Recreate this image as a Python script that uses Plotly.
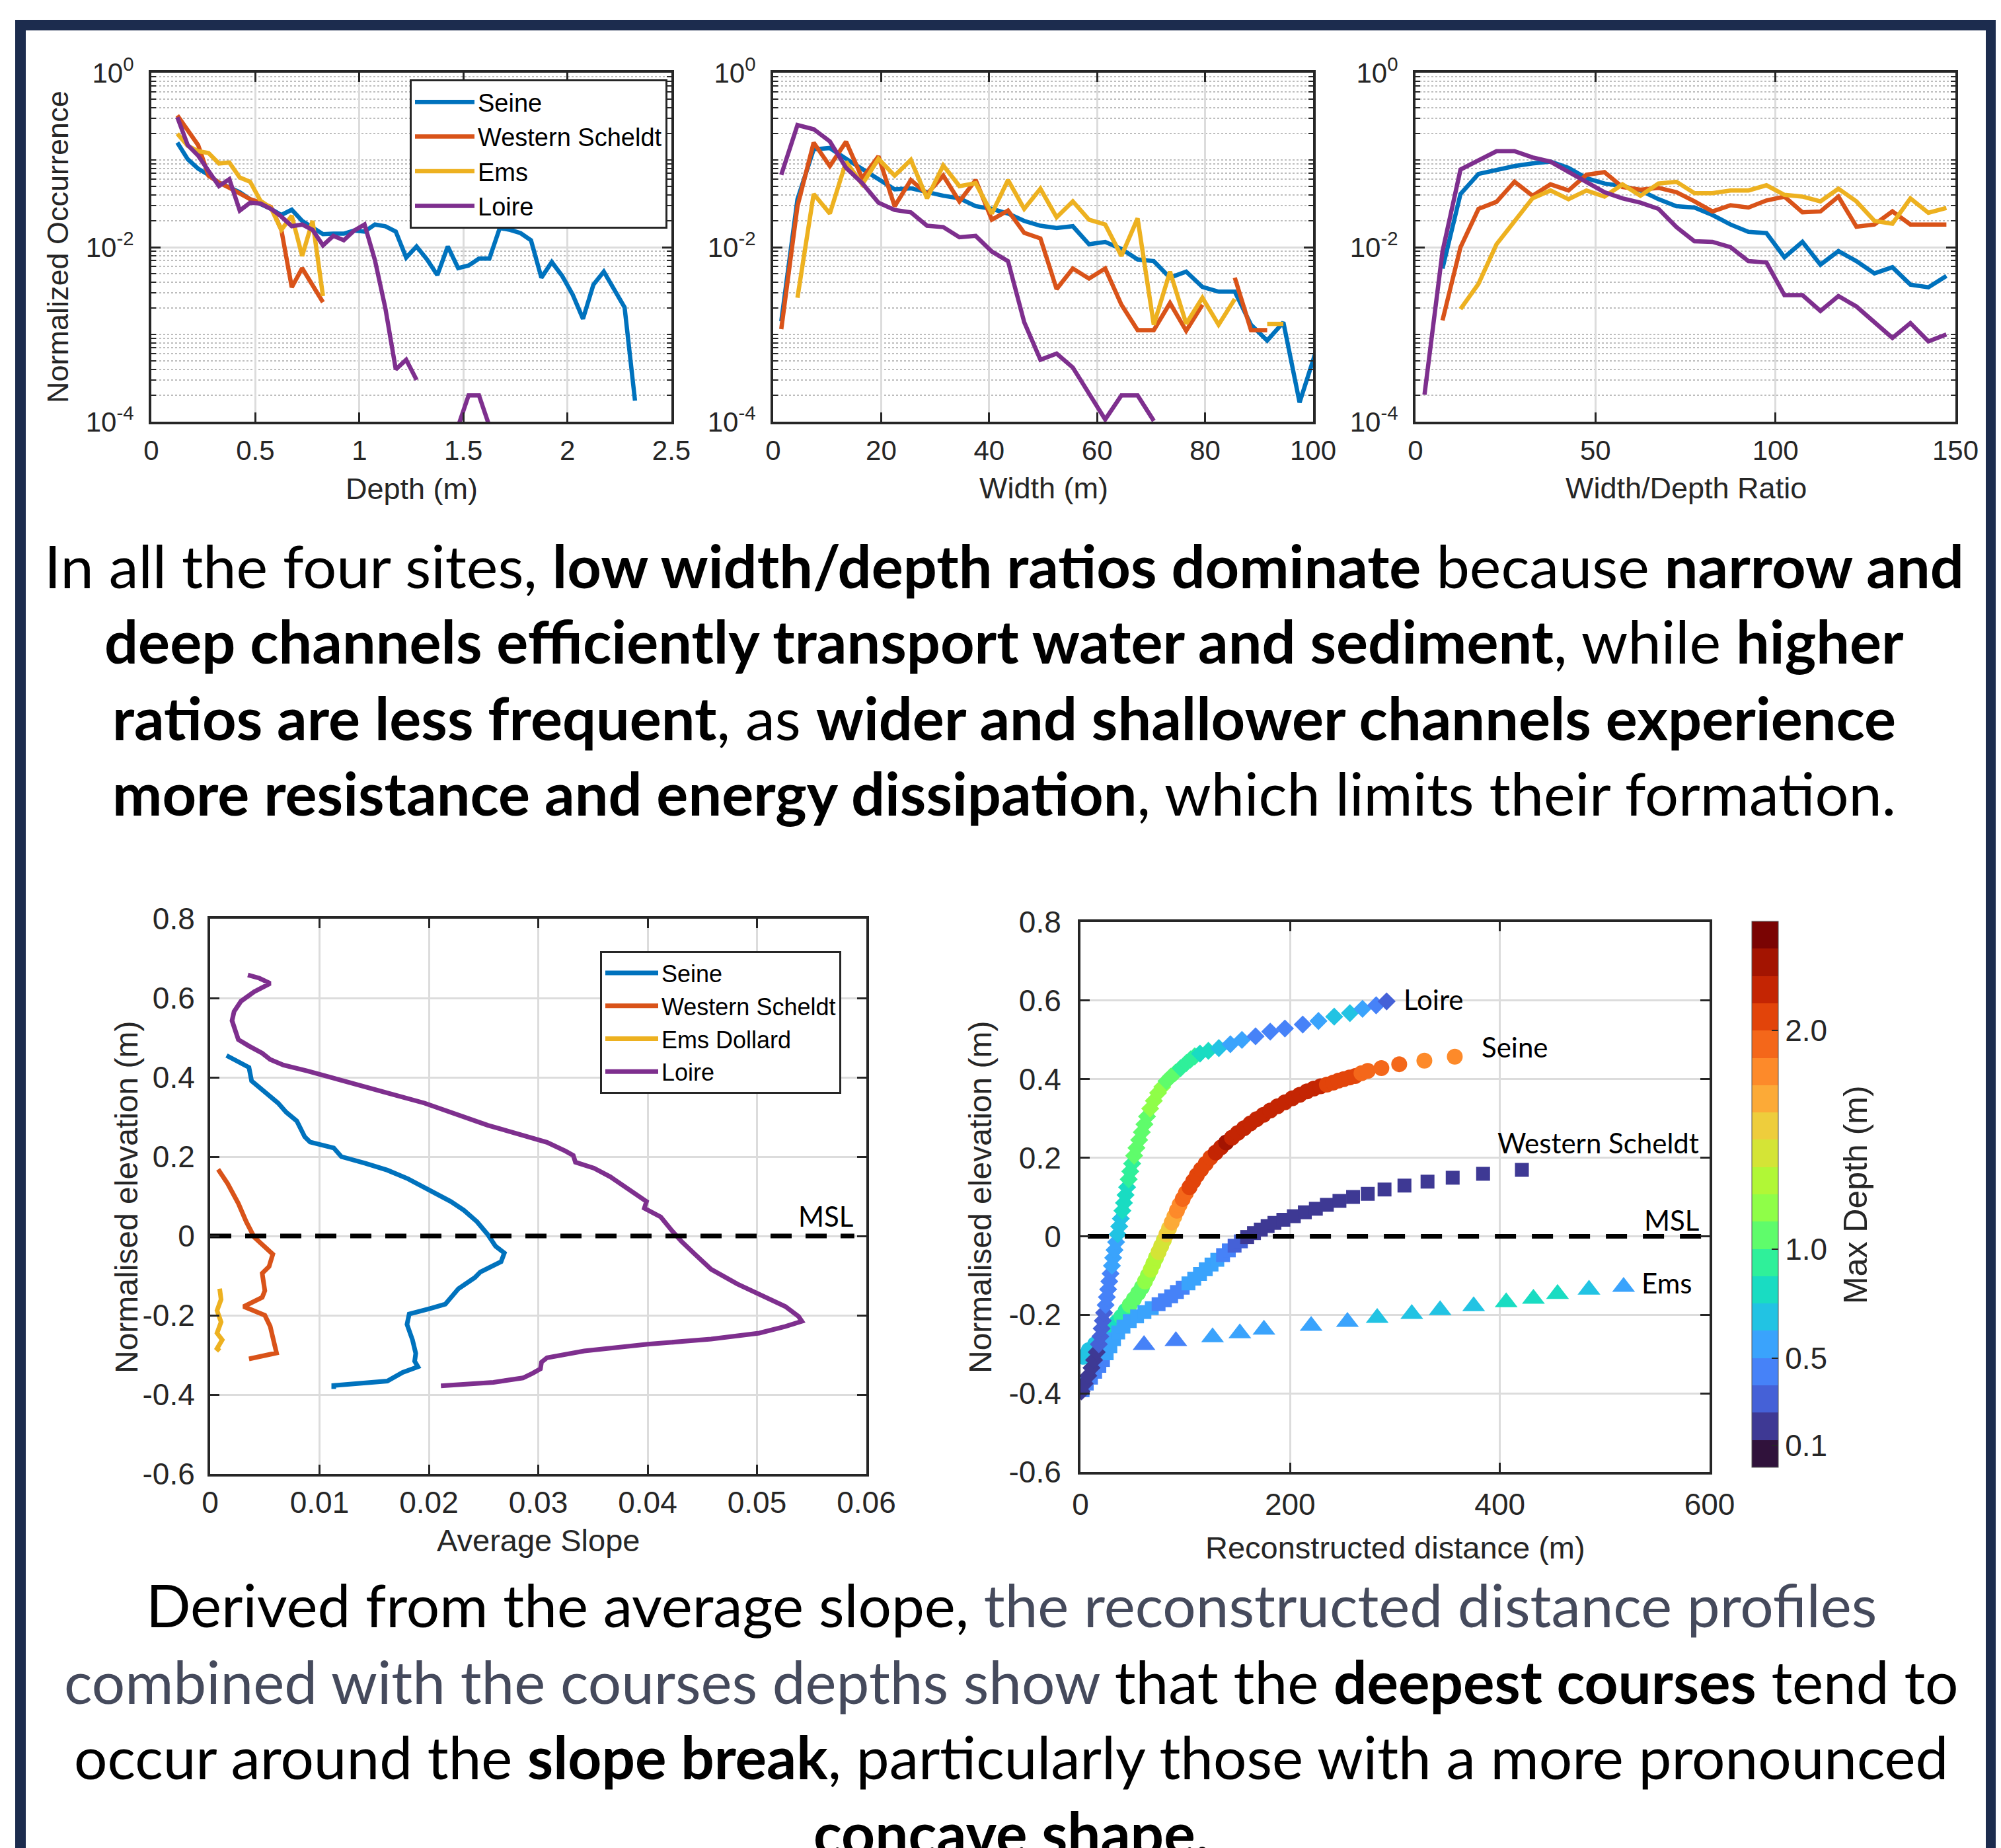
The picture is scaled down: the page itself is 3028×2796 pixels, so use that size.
import plotly.graph_objects as go

W, H = 3028, 2796

# ---------------------------------------------------------------- data
# top row: normalized occurrence histograms (bin centres)
depth_bins = [0.125, 0.175, 0.225, 0.275, 0.325, 0.375, 0.425, 0.475, 0.525, 0.575,
              0.625, 0.675, 0.725, 0.775, 0.825, 0.875, 0.925, 0.975, 1.025, 1.075,
              1.125, 1.175, 1.225, 1.275, 1.325, 1.375, 1.425, 1.475, 1.525, 1.575,
              1.625, 1.675, 1.725, 1.775, 1.825, 1.875, 1.925, 1.975, 2.025, 2.075,
              2.125, 2.175, 2.225, 2.275, 2.325]
depth_seine = [0.158, 0.102, 0.0794, 0.0676, 0.055, 0.049, 0.0427, 0.0355, 0.0316, 0.0275,
               0.0234, 0.0269, 0.02, 0.0166, 0.0141, 0.0143, 0.0143, 0.0155, 0.0151, 0.0182,
               0.0174, 0.0151, 0.00759, 0.0102, 0.00724, 0.00479, 0.0102, 0.00575, 0.00617, 0.00741,
               0.00741, 0.0166, 0.0158, 0.0145, 0.012, 0.00447, 0.00676, 0.00468, 0.00288, 0.00151,
               0.00372, 0.00525, 0.00331, 0.00204, 0.000174]
depth_ws = [0.324, 0.219, 0.148, 0.066, 0.055, 0.0479, 0.0407, 0.0355, 0.0324, 0.0288,
            0.0158, 0.00347, 0.00575, 0.00372, 0.00234]
depth_ems = [0.2, 0.145, 0.126, 0.12, 0.0912, 0.0933, 0.063, 0.0562, 0.0339, 0.0282,
             0.0158, 0.0229, 0.00794, 0.02, 0.00275]
depth_loire = [0.309, 0.148, 0.112, 0.0741, 0.0501, 0.0603, 0.0263, 0.0324, 0.0316, 0.0275,
               0.0224, 0.0174, 0.0182, 0.0158, 0.0105, 0.0135, 0.012, 0.0155, 0.0182, 0.00708,
               0.002, 0.000398, 0.000513, 0.000302, None, None, None, 0.000089, 0.0002, 0.0002,
               0.000089]

width_bins = [1.5, 4.5, 7.5, 10.5, 13.5, 16.5, 19.5, 22.5, 25.5, 28.5, 31.5, 34.5, 37.5,
              40.5, 43.5, 46.5, 49.5, 52.5, 55.5, 58.5, 61.5, 64.5, 67.5, 70.5, 73.5, 76.5,
              79.5, 82.5, 85.5, 88.5, 91.5, 94.5, 97.5, 100.5]
width_seine = [0.00141, 0.0355, 0.132, 0.137, 0.103, 0.078, 0.0589, 0.0461, 0.0473, 0.0427,
               0.0389, 0.0363, 0.0295, 0.0275, 0.0243, 0.02, 0.0176, 0.0166, 0.0174, 0.0108,
               0.0115, 0.00955, 0.00724, 0.00692, 0.00447, 0.00525, 0.00351, 0.00309, 0.00309,
               0.00129, 0.000851, 0.00138, 0.000166, 0.000631]
width_ws = [0.00115, 0.0295, 0.158, 0.0851, 0.162, 0.0617, 0.11, 0.0295, 0.0589, 0.0407,
            0.0661, 0.0335, 0.0589, 0.0207, 0.0263, 0.0146, 0.0126, 0.00331, 0.00569, 0.00437,
            0.00569, 0.00219, 0.00112, 0.00112, 0.00229, 0.0011, 0.00219, None, 0.00447,
            0.00112, 0.00112]
width_ems = [None, 0.00263, 0.0407, 0.0243, 0.0955, 0.0525, 0.103, 0.0661, 0.1, 0.0363,
             0.0865, 0.0501, 0.0542, 0.0243, 0.0589, 0.0275, 0.0468, 0.022, 0.0335, 0.0207,
             0.0182, 0.00794, 0.0214, 0.00129, 0.00525, 0.00133, 0.00263, 0.00129, 0.00254,
             None, 0.00132, 0.00132]
width_loire = [0.0676, 0.251, 0.225, 0.163, 0.0813, 0.0542, 0.0324, 0.0267, 0.0251, 0.0176,
               0.017, 0.013, 0.0135, 0.00891, 0.00692, 0.00138, 0.000513, 0.000603, 0.000417,
               0.000209, 0.000106, 0.0002, 0.0002, 0.000102]

ratio_bins = [2.5, 7.5, 12.5, 17.5, 22.5, 27.5, 32.5, 37.5, 42.5, 47.5, 52.5, 57.5, 62.5,
              67.5, 72.5, 77.5, 82.5, 87.5, 92.5, 97.5, 102.5, 107.5, 112.5, 117.5, 122.5,
              127.5, 132.5, 137.5, 142.5, 147.5]
ratio_seine = [None, 0.00569, 0.0407, 0.0692, 0.0776, 0.0851, 0.0912, 0.0955, 0.0813, 0.0617,
               0.0537, 0.0501, 0.0447, 0.0355, 0.0295, 0.0285, 0.0234, 0.0182, 0.015, 0.0145,
               0.00767, 0.0115, 0.00631, 0.00902, 0.00692, 0.00501, 0.00589, 0.00372, 0.00347,
               0.00468]
ratio_ws = [None, 0.00145, 0.01, 0.0275, 0.0331, 0.0562, 0.0389, 0.0525, 0.0447, 0.0676,
            0.0724, 0.049, 0.0457, 0.0479, 0.0427, 0.0335, 0.0257, 0.0302, 0.0285, 0.0343,
            0.038, 0.0251, 0.0257, 0.038, 0.0172, 0.0182, 0.0257, 0.0182, 0.0182, 0.0182]
ratio_ems = [None, None, 0.00195, 0.0038, 0.0108, 0.02, 0.0363, 0.0447, 0.0355, 0.0447,
             0.038, 0.0525, 0.0389, 0.0537, 0.0562, 0.0417, 0.0417, 0.0447, 0.0447, 0.0513,
             0.0398, 0.038, 0.0335, 0.0468, 0.0335, 0.02, 0.0186, 0.0363, 0.0248, 0.0282]
ratio_loire = [0.000204, 0.00891, 0.0776, 0.1, 0.126, 0.126, 0.107, 0.0955, 0.0724, 0.0562,
               0.0427, 0.0363, 0.0324, 0.0275, 0.017, 0.0117, 0.0115, 0.01, 0.00692, 0.00668,
               0.00282, 0.00282, 0.00186, 0.00275, 0.00209, 0.00138, 0.000912, 0.00135,
               0.000832, 0.001]

# bottom-left: average slope vs normalised elevation
slope_loire = [0.00345, 0.0045, 0.00549, 0.00403, 0.00282, 0.00219, 0.002, 0.00233, 0.00258,
               0.00355, 0.00476, 0.00549, 0.0067, 0.0089, 0.0113, 0.0137, 0.0167, 0.0196,
               0.0225, 0.0254, 0.0283, 0.0308, 0.0325, 0.0332, 0.0334, 0.0351, 0.0366, 0.0385,
               0.0399, 0.0397, 0.0412, 0.0422, 0.0431, 0.0444, 0.0458, 0.0482, 0.0507, 0.0526,
               0.0538, 0.0541, 0.0526, 0.0502, 0.0458, 0.04, 0.0342, 0.0308, 0.0303, 0.0302,
               0.0295, 0.0286, 0.0259, 0.0211]
elev_loire = [0.658, 0.65, 0.637, 0.616, 0.592, 0.566, 0.543, 0.515, 0.495, 0.479, 0.461,
              0.445, 0.431, 0.416, 0.397, 0.38, 0.357, 0.335, 0.307, 0.279, 0.256, 0.236,
              0.214, 0.203, 0.186, 0.171, 0.149, 0.115, 0.087, 0.07, 0.048, 0.014, -0.014,
              -0.048, -0.084, -0.121, -0.155, -0.178, -0.203, -0.215, -0.228, -0.245, -0.26,
              -0.273, -0.29, -0.307, -0.318, -0.335, -0.346, -0.358, -0.369, -0.378]
slope_seine = [0.0015, 0.00258, 0.00355, 0.00379, 0.005, 0.00622, 0.00695, 0.00792, 0.00865,
               0.00913, 0.0113, 0.012, 0.0142, 0.0162, 0.0181, 0.0201, 0.022, 0.0232, 0.0244,
               0.0254, 0.0261, 0.0269, 0.0266, 0.0247, 0.0242, 0.0227, 0.0215, 0.0201, 0.0182,
               0.018, 0.0185, 0.0188, 0.0187, 0.019, 0.0176, 0.0162, 0.0113, 0.0113]
elev_seine = [0.455, 0.438, 0.425, 0.391, 0.363, 0.335, 0.312, 0.29, 0.25, 0.237, 0.222, 0.2,
              0.183, 0.166, 0.144, 0.115, 0.087, 0.065, 0.036, 0.003, -0.026, -0.043, -0.065,
              -0.091, -0.105, -0.133, -0.172, -0.183, -0.197, -0.223, -0.262, -0.296, -0.316,
              -0.33, -0.344, -0.366, -0.377, -0.386]
slope_ws = [0.00073, 0.0016, 0.00258, 0.0033, 0.00403, 0.0045, 0.00573, 0.00539, 0.00476,
            0.005, 0.00476, 0.00306, 0.005, 0.00549, 0.00588, 0.00607, 0.00355]
elev_ws = [0.168, 0.132, 0.082, 0.036, -0.003, -0.015, -0.046, -0.077, -0.094, -0.138, -0.155,
           -0.178, -0.2, -0.228, -0.273, -0.295, -0.31]
slope_ems = [0.00087, 0.001, 0.00063, 0.001, 0.00063, 0.0011, 0.00063, 0.00087]
elev_ems = [-0.133, -0.16, -0.188, -0.217, -0.245, -0.262, -0.284, -0.29]

# bottom-right: reconstructed distance, elevation, max depth
loire_dist = [1, 4, 7.5, 10.5, 13, 15.5, 17.5, 19, 20.2, 21.3, 22.5, 24, 25.2, 26.4, 27.5,
              28.7, 30, 31.2, 32.5, 34, 35.5, 37, 38.5, 40, 41.5, 43, 44.5, 46, 47.5, 49.3,
              51.2, 53.4, 56, 58.5, 61, 63.5, 66.5, 70, 74, 78, 82, 86, 90.5, 95.5, 101, 105,
              109, 114, 122, 132, 143, 154, 167, 181, 195, 212, 227, 242, 257, 269, 282, 292]
loire_elev = [-0.395, -0.375, -0.355, -0.335, -0.315, -0.295, -0.275, -0.255, -0.235, -0.215,
              -0.195, -0.175, -0.155, -0.135, -0.115, -0.095, -0.075, -0.055, -0.035, -0.015,
              0.005, 0.025, 0.045, 0.065, 0.085, 0.105, 0.125, 0.145, 0.165, 0.185, 0.205,
              0.225, 0.245, 0.265, 0.285, 0.305, 0.325, 0.345, 0.365, 0.38, 0.395, 0.406, 0.416,
              0.428, 0.441, 0.45, 0.458, 0.465, 0.472, 0.479, 0.489, 0.5, 0.509, 0.521, 0.529,
              0.539, 0.548, 0.559, 0.568, 0.579, 0.588, 0.598]
loire_maxdepth = [0.19, 0.19, 0.19, 0.19, 0.19, 0.19, 0.31, 0.31, 0.31, 0.31, 0.31, 0.44, 0.44,
                  0.44, 0.44, 0.44, 0.56, 0.56, 0.56, 0.56, 0.69, 0.69, 0.69, 0.81, 0.81, 0.81,
                  0.81, 0.94, 0.94, 0.94, 1.06, 1.06, 1.06, 1.06, 1.06, 1.06, 1.19, 1.19, 1.19,
                  1.19, 1.06, 1.06, 1.06, 0.94, 0.94, 0.94, 0.94, 0.81, 0.81, 0.69, 0.56, 0.56,
                  0.44, 0.44, 0.44, 0.44, 0.56, 0.69, 0.69, 0.56, 0.44, 0.31]

seine_dist = [3, 8, 14, 20, 26, 31, 35, 39, 43, 47, 51, 55, 58.6, 61.5, 64.3, 67, 69.5, 72,
              74.5, 77, 79.5, 82, 84.5, 87, 89.5, 92, 94.5, 97.5, 100.5, 104, 107.5, 111, 115,
              119.5, 124, 129, 134, 139, 144.5, 150, 156, 162, 168, 174.5, 181, 188, 195, 202,
              209, 216, 222.5, 229, 235, 241, 246, 251, 256.5, 262, 268, 274, 287, 304, 328, 357]
seine_elev = [-0.307, -0.29, -0.275, -0.26, -0.248, -0.232, -0.218, -0.205, -0.19, -0.175,
              -0.16, -0.145, -0.13, -0.115, -0.1, -0.085, -0.07, -0.055, -0.04, -0.025, -0.01,
              0.005, 0.02, 0.035, 0.05, 0.065, 0.08, 0.095, 0.11, 0.125, 0.14, 0.155, 0.17,
              0.185, 0.2, 0.213, 0.226, 0.239, 0.251, 0.263, 0.275, 0.287, 0.298, 0.309, 0.32,
              0.331, 0.341, 0.351, 0.36, 0.369, 0.376, 0.382, 0.386, 0.391, 0.396, 0.4, 0.404,
              0.408, 0.415, 0.421, 0.428, 0.438, 0.447, 0.457]
seine_maxdepth = [0.69, 0.69, 0.69, 0.69, 0.69, 0.81, 0.81, 0.94, 0.94, 1.06, 1.06, 1.06, 1.06,
                  1.19, 1.19, 1.31, 1.31, 1.31, 1.44, 1.44, 1.44, 1.56, 1.56, 1.69, 1.69, 1.81,
                  1.81, 1.94, 1.94, 2.06, 2.06, 2.06, 2.06, 2.06, 2.06, 2.19, 2.19, 2.31, 2.19,
                  2.19, 2.19, 2.19, 2.19, 2.19, 2.19, 2.19, 2.19, 2.19, 2.19, 2.19, 2.19, 2.19,
                  2.06, 2.06, 2.06, 2.06, 2.06, 2.06, 1.94, 1.94, 1.94, 1.94, 1.81, 1.81]

ws_dist = [2, 6, 10, 14, 18, 21.5, 25, 28.5, 32, 36, 41, 47, 54, 61, 68, 74.5, 80.5, 86.5, 92,
           97.5, 103, 108.5, 114, 119.5, 125, 130.5, 136, 141.5, 147, 153, 159, 165.5, 172,
           178.5, 185, 193.5, 203.5, 214, 224.5, 235, 247, 260, 274, 290, 309, 331, 355, 384, 421]
ws_elev = [-0.392, -0.375, -0.36, -0.345, -0.33, -0.315, -0.298, -0.28, -0.262, -0.245, -0.23,
           -0.216, -0.204, -0.193, -0.183, -0.173, -0.163, -0.153, -0.142, -0.131, -0.12, -0.108,
           -0.096, -0.084, -0.072, -0.06, -0.048, -0.036, -0.024, -0.013, -0.002, 0.008, 0.017,
           0.026, 0.034, 0.042, 0.051, 0.061, 0.07, 0.08, 0.09, 0.1, 0.108, 0.119, 0.129,
           0.139, 0.149, 0.159, 0.169]
ws_maxdepth = [0.44, 0.44, 0.44, 0.44, 0.44, 0.44, 0.56, 0.56, 0.56, 0.56, 0.56, 0.56, 0.56,
               0.56, 0.56, 0.44, 0.44, 0.44, 0.44, 0.44, 0.56, 0.56, 0.56, 0.56, 0.56, 0.56,
               0.44, 0.44, 0.31, 0.31, 0.19, 0.19, 0.19, 0.19, 0.19, 0.19, 0.19, 0.19, 0.19,
               0.19, 0.19, 0.19, 0.19, 0.19, 0.19, 0.19, 0.19, 0.19, 0.19]

ems_dist = [60.6, 91, 126, 152, 175, 220, 254.6, 283, 316, 343, 375, 406, 432, 455, 485, 518]
ems_elev = [-0.277, -0.267, -0.257, -0.247, -0.238, -0.228, -0.218, -0.208, -0.198, -0.188,
            -0.178, -0.168, -0.159, -0.147, -0.136, -0.129]
ems_maxdepth = [0.44, 0.44, 0.56, 0.56, 0.56, 0.56, 0.56, 0.69, 0.69, 0.69, 0.69, 0.81, 0.81,
                0.81, 0.69, 0.56]

msl_level = 0.0
msl_slope_extent = [0.0, 0.0589]
msl_dist_extent = [7, 592]

# ticks
depth_ticks = [0, 0.5, 1, 1.5, 2, 2.5]
depth_ticklabels = ["0", "0.5", "1", "1.5", "2", "2.5"]
width_ticks = [0, 20, 40, 60, 80, 100]
ratio_ticks = [0, 50, 100, 150]
occ_ticks = [1e-4, 1e-2, 1]
occ_ticklabels = ["10<sup>-4</sup>", "10<sup>-2</sup>", "10<sup>0</sup>"]
slope_ticks = [0, 0.01, 0.02, 0.03, 0.04, 0.05, 0.06]
slope_ticklabels = ["0", "0.01", "0.02", "0.03", "0.04", "0.05", "0.06"]
elev_ticks = [-0.6, -0.4, -0.2, 0, 0.2, 0.4, 0.6, 0.8]
elev_ticklabels = ["-0.6", "-0.4", "-0.2", "0", "0.2", "0.4", "0.6", "0.8"]
dist_ticks = [0, 200, 400, 600]
cbar_ticks = [0.1, 0.5, 1.0, 2.0]
cbar_ticklabels = ["0.1", "0.5", "1.0", "2.0"]

# ---------------------------------------------------------------- style
def fx(p):
    return p / W


def fy(p):
    return 1 - p / H


INK = "#262626"
AXF = "Liberation Sans, Arial, sans-serif"
TXF = "Lato, 'Open Sans', sans-serif"
C_SEINE, C_WS, C_EMS, C_LOIRE = "#0072BD", "#D95319", "#EDB120", "#7E2F8E"
GRAY = "#454a5c"
NAVY = "#1c2c4e"
turbo20 = ['#30123b', '#3e3994', '#4561d7', '#4682f8', '#3aa3fc', '#22c3e3', '#19dcc2',
           '#2ff09a', '#5ffc6b', '#8ffe48', '#b1f736', '#d4e436', '#eecd3c', '#fcaa37',
           '#fd8a2a', '#f4671a', '#e2440a', '#c42503', '#a31401', '#7a0403']
steps = []
for i, c in enumerate(turbo20):
    steps.append([i / 20, c])
    steps.append([(i + 1) / 20, c])

minor_log = [k * 10 ** d for d in (-4, -3, -2, -1) for k in range(1, 10) if not (k == 1 and d in (-4, -2))]

fig = go.Figure()

LW_TOP = 6.5
top_sets = [
    ("x", "y", depth_bins, [("Seine", depth_seine, C_SEINE), ("Western Scheldt", depth_ws, C_WS),
                            ("Ems", depth_ems, C_EMS), ("Loire", depth_loire, C_LOIRE)], True),
    ("x2", "y2", width_bins, [("Seine", width_seine, C_SEINE), ("Western Scheldt", width_ws, C_WS),
                              ("Ems", width_ems, C_EMS), ("Loire", width_loire, C_LOIRE)], False),
    ("x3", "y3", ratio_bins, [("Seine", ratio_seine, C_SEINE), ("Western Scheldt", ratio_ws, C_WS),
                              ("Ems", ratio_ems, C_EMS), ("Loire", ratio_loire, C_LOIRE)], False),
]
for xa, ya, bins, series, show in top_sets:
    for name, vals, col in series:
        fig.add_trace(go.Scatter(x=bins[:len(vals)], y=vals, mode="lines", name=name,
                                 line=dict(color=col, width=LW_TOP), xaxis=xa, yaxis=ya,
                                 showlegend=show, legend="legend", hoverinfo="skip"))

for name, sx, sy, col in [("Seine", slope_seine, elev_seine, C_SEINE),
                          ("Western Scheldt", slope_ws, elev_ws, C_WS),
                          ("Ems Dollard", slope_ems, elev_ems, C_EMS),
                          ("Loire", slope_loire, elev_loire, C_LOIRE)]:
    fig.add_trace(go.Scatter(x=sx, y=sy, mode="lines", name=name, line=dict(color=col, width=7),
                             xaxis="x4", yaxis="y4", legend="legend2", showlegend=True,
                             hoverinfo="skip"))
fig.add_trace(go.Scatter(x=msl_slope_extent, y=[msl_level, msl_level], mode="lines",
                         line=dict(color="black", width=7, dash="32px,21px"),
                         xaxis="x4", yaxis="y4", showlegend=False, hoverinfo="skip"))

for d, e, m, sym, size in [(seine_dist, seine_elev, seine_maxdepth, "circle", 24),
                           (ws_dist, ws_elev, ws_maxdepth, "square", 21),
                           (loire_dist, loire_elev, loire_maxdepth, "diamond", 21),
                           (ems_dist, ems_elev, ems_maxdepth, "triangle-up", 30)]:
    fig.add_trace(go.Scatter(x=d, y=e, mode="markers", xaxis="x5", yaxis="y5", showlegend=False,
                             marker=dict(symbol=sym, size=size, color=m, coloraxis="coloraxis",
                                         line=dict(width=0)), hoverinfo="skip"))
fig.add_trace(go.Scatter(x=msl_dist_extent, y=[msl_level, msl_level], mode="lines",
                         line=dict(color="black", width=7, dash="32px,24px"),
                         xaxis="x5", yaxis="y5", showlegend=False, hoverinfo="skip"))


def axis(domain, anchor, rng, vals, labels, size, standoff, typ="linear", minor=None):
    d = dict(domain=domain, anchor=anchor, range=rng, type=typ, tickmode="array",
             tickvals=vals, ticktext=labels, showline=True, linecolor=INK, linewidth=4,
             mirror="ticks", ticks="inside", ticklen=14, tickwidth=3, tickcolor=INK,
             showgrid=True, gridcolor="#dcdcdc", gridwidth=3, zeroline=False,
             tickfont=dict(family=AXF, size=size, color=INK), automargin=False,
             ticklabelstandoff=standoff, fixedrange=True)
    if minor is not None:
        d["minor"] = minor
    return d


log_minor = dict(tickmode="array", tickvals=minor_log, ticks="inside", ticklen=7, tickwidth=2,
                 tickcolor=INK, showgrid=True, gridcolor="#bdbdbd", griddash="dot", gridwidth=2)

ytop = [fy(630), fy(102)]
yb4 = [fy(2222), fy(1382)]
yb5 = [fy(2219), fy(1387)]

layout = dict(
    width=W, height=H, margin=dict(l=0, r=0, t=0, b=0),
    paper_bgcolor="white", plot_bgcolor="white",
    xaxis=axis([fx(221), fx(1008)], "y", [0, 2.5], depth_ticks, depth_ticklabels, 42, 4),
    yaxis=axis(ytop, "x", [-4, 0], occ_ticks, occ_ticklabels, 42, 14, "log", log_minor),
    xaxis2=axis([fx(1162), fx(1979)], "y2", [0, 100], width_ticks, [str(v) for v in width_ticks], 42, 4),
    yaxis2=axis(ytop, "x2", [-4, 0], occ_ticks, occ_ticklabels, 42, 14, "log", log_minor),
    xaxis3=axis([fx(2134), fx(2951)], "y3", [0, 150], ratio_ticks, [str(v) for v in ratio_ticks], 42, 4),
    yaxis3=axis(ytop, "x3", [-4, 0], occ_ticks, occ_ticklabels, 42, 14, "log", log_minor),
    xaxis4=axis([fx(310), fx(1303)], "y4", [0, 0.06], slope_ticks, slope_ticklabels, 46, 0),
    yaxis4=axis(yb4, "x4", [-0.6, 0.8], elev_ticks, elev_ticklabels, 46, 10),
    xaxis5=axis([fx(1627), fx(2579)], "y5", [0, 600], dist_ticks, [str(v) for v in dist_ticks], 46, 6),
    yaxis5=axis(yb5, "x5", [-0.6, 0.8], elev_ticks, elev_ticklabels, 46, 16),
    coloraxis=dict(colorscale=steps, cmin=0, cmax=2.5,
                   colorbar=dict(x=fx(2643), xanchor="left", xpad=0, y=fy(1799), yanchor="middle",
                                 ypad=0, len=826, lenmode="pixels", thickness=40,
                                 thicknessmode="pixels", tickmode="array", tickvals=cbar_ticks,
                                 ticktext=cbar_ticklabels, ticks="inside", ticklen=10, tickwidth=2,
                                 tickcolor=INK, tickfont=dict(family=AXF, size=46, color=INK),
                                 outlinewidth=1, outlinecolor="#555555")),
    legend=dict(x=fx(1002), y=fy(112), xanchor="right", yanchor="top", bgcolor="white",
                bordercolor=INK, borderwidth=3, font=dict(family=AXF, size=38, color="black"),
                tracegroupgap=0, itemwidth=90),
    legend2=dict(x=fx(1265), y=fy(1431), xanchor="right", yanchor="top", bgcolor="white",
                 bordercolor=INK, borderwidth=3, font=dict(family=AXF, size=36, color="black"),
                 tracegroupgap=0, itemwidth=80),
    shapes=[dict(type="rect", xref="paper", yref="paper", x0=fx(23), x1=fx(3005), y0=fy(30),
                 y1=-0.2, line=dict(color=NAVY, width=16), fillcolor="rgba(0,0,0,0)")],
)
fig.update_layout(**layout)

ann = []


def paper_text(text, x, y, size, family, angle=0, xanchor="center", color=INK):
    ann.append(dict(text=text, x=fx(x), y=fy(y), xref="paper", yref="paper", showarrow=False,
                    xanchor=xanchor, yanchor="middle", textangle=angle,
                    font=dict(family=family, size=size, color=color)))


# axis titles
paper_text("Normalized Occurrence", 80, 366, 45, AXF, -90)
paper_text("Depth (m)", 615, 732, 45, AXF)
paper_text("Width (m)", 1571, 730, 45, AXF)
paper_text("Width/Depth Ratio", 2543, 730, 45, AXF)
paper_text("Normalised elevation (m)", 183, 1803, 48, AXF, -90)
paper_text("Average Slope", 806, 2322, 47, AXF)
paper_text("Normalised elevation (m)", 1475, 1803, 48, AXF, -90)
paper_text("Reconstructed distance (m)", 2103, 2333, 47, AXF)
paper_text("Max Depth (m)", 2800, 1800, 50, AXF, -90)

# paragraphs
mid_lines = [
    "In all the four sites, <b>low width/depth ratios dominate</b> because <b>narrow and</b>",
    "<b>deep channels efficiently transport water and sediment</b>, while <b>higher</b>",
    "<b>ratios are less frequent</b>, as <b>wider and shallower channels experience</b>",
    "<b>more resistance and energy dissipation</b>, which limits their formation.",
]
for line, yy in zip(mid_lines, [847, 961, 1077, 1191]):
    paper_text(line, 1511, yy, 90, TXF, color="black")

bot_lines = [
    f"Derived from the average slope, <span style='color:{GRAY}'>the reconstructed distance profiles</span>",
    f"<span style='color:{GRAY}'>combined with the courses depths show</span> that the <b>deepest courses</b> tend to",
    "occur around the <b>slope break</b>, particularly those with a more pronounced",
    "<b>concave shape.</b>",
]
for line, yy in zip(bot_lines, [2419, 2535, 2649, 2764]):
    paper_text(line, 1522, yy, 89, TXF, color="black")

# in-panel labels
def data_text(text, x, y, xref, yref, xanchor):
    ann.append(dict(text=text, x=x, y=y, xref=xref, yref=yref, showarrow=False,
                    xanchor=xanchor, yanchor="middle", font=dict(family=TXF, size=42, color="black")))


data_text("MSL", 0.0589, 0.05, "x4", "y4", "right")
data_text("Loire", 307, 0.603, "x5", "y5", "left")
data_text("Seine", 381, 0.482, "x5", "y5", "left")
data_text("Western Scheldt", 591, 0.238, "x5", "y5", "right")
data_text("MSL", 591, 0.041, "x5", "y5", "right")
data_text("Ems", 534, -0.119, "x5", "y5", "left")

fig.update_layout(annotations=ann)
fig.write_html("out.html")
